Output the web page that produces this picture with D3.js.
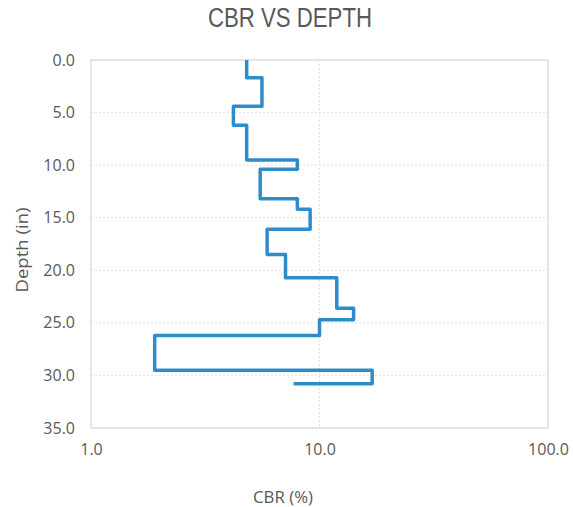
<!DOCTYPE html>
<html>
<head>
<meta charset="utf-8">
<script src="https://cdn.jsdelivr.net/npm/d3@7"></script>
<style>
html,body{margin:0;padding:0;background:#fff;}
svg{display:block;}
text{font-family:"Open Sans","Noto Sans",sans-serif;fill:#595959;}
</style>
</head>
<body>
<svg id="chart" width="573" height="507"></svg>
<script>
// Layer tops (in) and CBR (%) per layer; last entry closes at its own depth
const layerTop = [0, 1.7, 4.4, 6.2, 9.5, 10.4, 13.2, 14.2, 16.1, 18.5, 20.7, 23.6, 24.7, 26.2, 29.5, 30.8];
const layerCBR = [4.8, 5.6, 4.2, 4.8, 8.0, 5.5, 8.0, 9.1, 5.9, 7.1, 11.9, 14.1, 10.0, 1.9, 17.0, 7.7];
const xTicks = [1, 10, 100];
const yTicks = [0, 5, 10, 15, 20, 25, 30, 35];
const title = "CBR VS DEPTH";
const xTitle = "CBR (%)";
const yTitle = "Depth (in)";

const svg = d3.select("#chart");
const L = 91, R = 548, T = 60, B = 428;

const x = d3.scaleLog().domain([1, 100]).range([L, R]);
const y = d3.scaleLinear().domain([0, 35]).range([T, B]);

// gridlines
svg.append("g").selectAll("line").data(yTicks).join("line")
  .attr("x1", L).attr("x2", R).attr("y1", d => y(d)).attr("y2", d => y(d))
  .attr("stroke", "#e2e2e2").attr("stroke-width", 1).attr("stroke-dasharray", "2,2");
svg.append("g").selectAll("line").data(xTicks).join("line")
  .attr("y1", T).attr("y2", B).attr("x1", d => x(d)).attr("x2", d => x(d))
  .attr("stroke", "#e2e2e2").attr("stroke-width", 1).attr("stroke-dasharray", "2,2");
// plot border
svg.append("rect").attr("x", L).attr("y", T).attr("width", R - L).attr("height", B - T)
  .attr("fill", "none").attr("stroke", "#d4d4d4").attr("stroke-width", 1);

// axes (labels only)
const fmt = d3.format(".1f");
const xAxis = svg.append("g").attr("transform", `translate(0,${B + 10})`)
  .call(d3.axisBottom(x).tickValues(xTicks).tickFormat(fmt).tickSize(0));
xAxis.select(".domain").remove();
xAxis.selectAll("text").attr("font-size", 16).attr("fill", "#595959").attr("dy", "0.85em")
  .style("font-family", '"Open Sans",sans-serif');

const yAxis = svg.append("g").attr("transform", `translate(${L - 13},0)`)
  .call(d3.axisLeft(y).tickValues(yTicks).tickFormat(fmt).tickSize(0));
yAxis.select(".domain").remove();
yAxis.selectAll("text").attr("font-size", 16).attr("fill", "#595959")
  .style("font-family", '"Open Sans",sans-serif');

// step path from layers
const pts = [];
layerTop.forEach((t, i) => {
  const bottom = i < layerTop.length - 1 ? layerTop[i + 1] : t;
  pts.push([layerCBR[i], t]);
  pts.push([layerCBR[i], bottom]);
});
const line = d3.line().x(d => x(d[0])).y(d => y(d[1]));
svg.append("path").datum(pts).attr("d", line)
  .attr("fill", "none").attr("stroke", "#2f8ccb").attr("stroke-width", 3.5)
  .attr("stroke-linejoin", "round").attr("stroke-linecap", "butt");

// titles
svg.append("text").attr("x", 290).attr("y", 27).attr("text-anchor", "middle")
  .style("font-family", '"Liberation Sans",Arial,sans-serif')
  .attr("font-size", 27).attr("textLength", 164).attr("lengthAdjust", "spacingAndGlyphs").text(title);
svg.append("text").attr("x", 283).attr("y", 503).attr("text-anchor", "middle")
  .attr("font-size", 17).attr("textLength", 60).attr("lengthAdjust", "spacingAndGlyphs").text(xTitle);
svg.append("text").attr("transform", "translate(28,250) rotate(-90)").attr("text-anchor", "middle")
  .attr("font-size", 17).attr("textLength", 85).attr("lengthAdjust", "spacingAndGlyphs").text(yTitle);
</script>
</body>
</html>
